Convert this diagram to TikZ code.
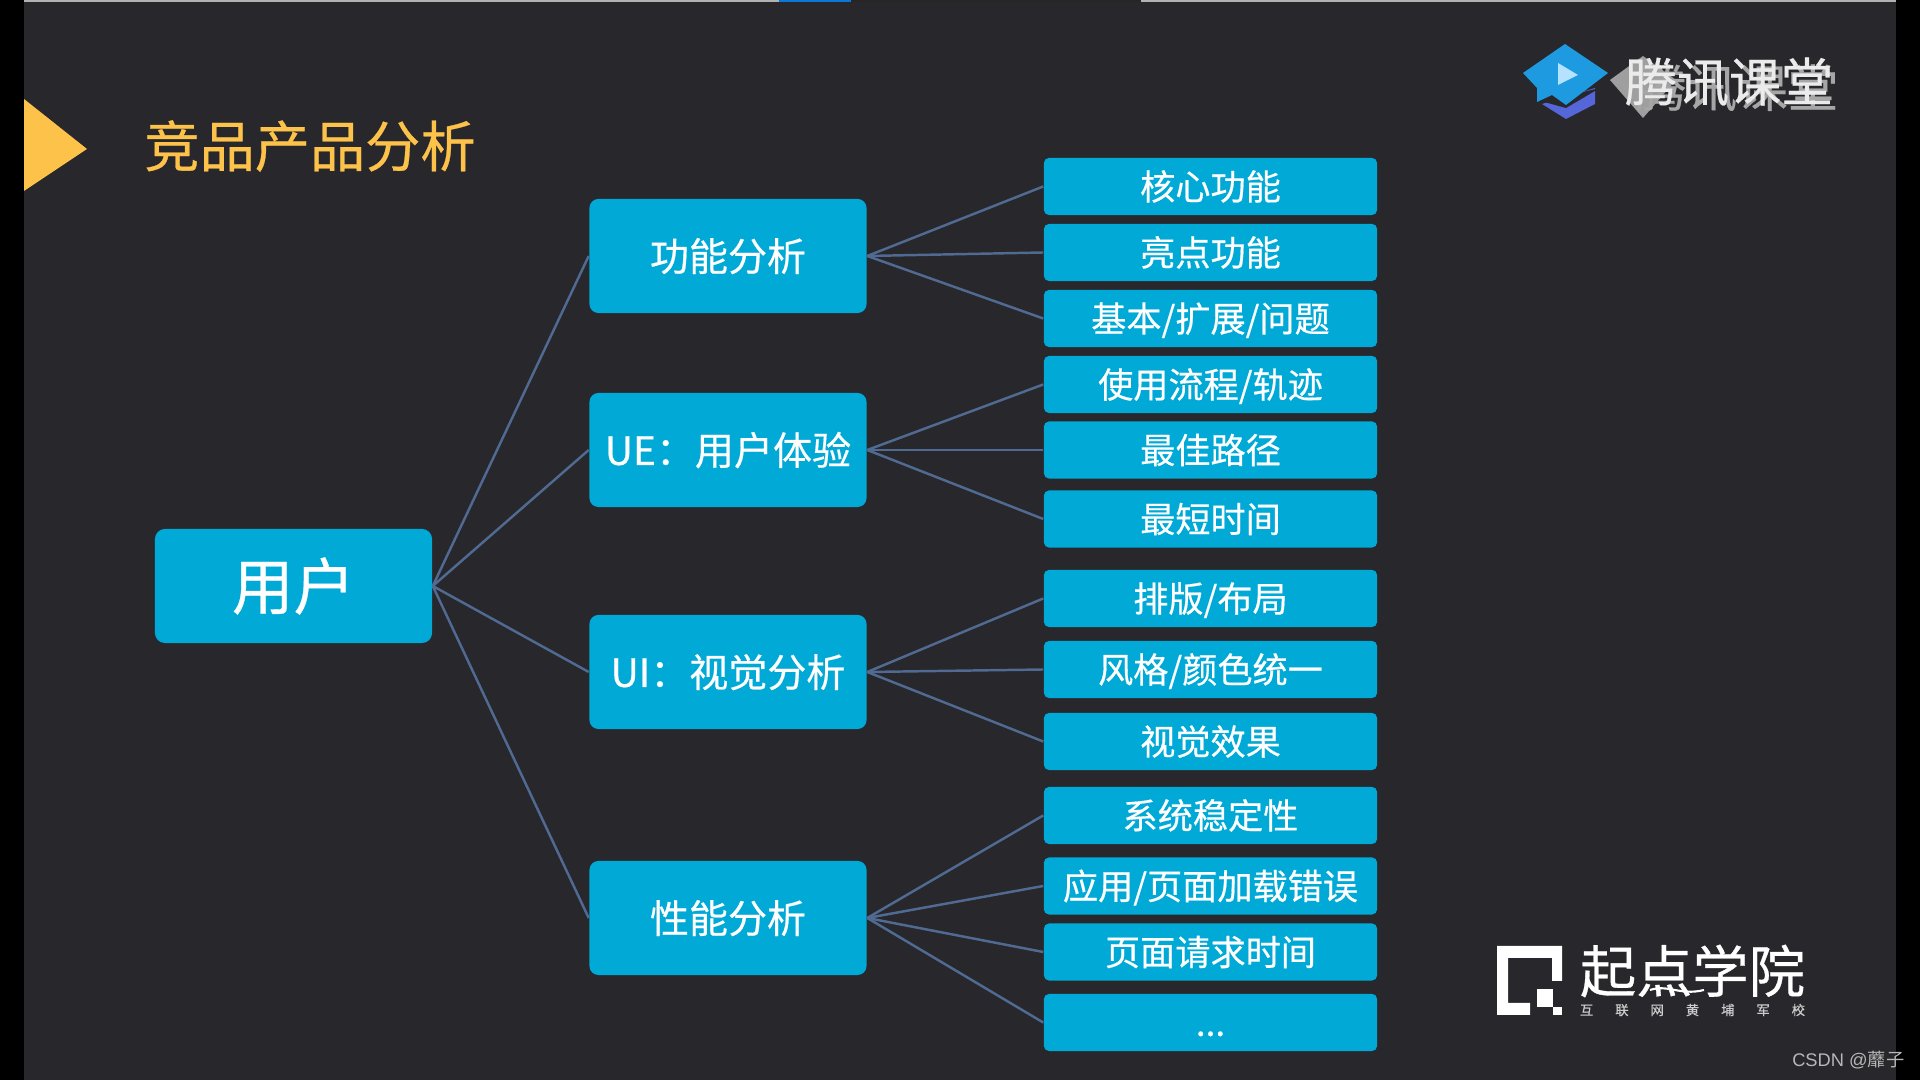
\documentclass[tikz,border=0pt]{standalone}
\usepackage{fontspec}
\usepackage{xcolor}
\setmainfont{Noto Sans CJK SC}[RawFeature={embolden=0.5}]
\newfontfamily\csdnfont{Liberation Sans}
\newfontfamily\plaincjk{Noto Sans CJK SC}
\usetikzlibrary{arrows.meta, calc}
\definecolor{slidebg}{HTML}{27272C}
\definecolor{boxblue}{HTML}{00A9D6}
\definecolor{linkblue}{HTML}{506A92}
\definecolor{titlegold}{HTML}{FDC24A}
\definecolor{barblue}{HTML}{0A78D7}
\definecolor{capblue}{HTML}{1E9BE0}
\definecolor{capviolet}{HTML}{5566D8}
\definecolor{playblue}{HTML}{B5E3FF}

\begin{document}
\begin{tikzpicture}[x=0.01cm, y=-0.01cm,
    rootbox/.style={fill=boxblue, rounded corners=0.1cm, minimum width=2.77cm, minimum height=1.14cm, inner sep=0pt, text=white, font=\fontsize{17.5}{17.5}\selectfont, text height=15.4pt, text depth=2.1pt},
    midbox/.style={fill=boxblue, rounded corners=0.09cm, minimum width=2.77cm, minimum height=1.14cm, inner sep=0pt, text=white, font=\fontsize{11.1}{11.1}\selectfont, text height=9.8pt, text depth=1.3pt},
    leafbox/.style={fill=boxblue, rounded corners=0.05cm, minimum width=3.33cm, minimum height=0.57cm, inner sep=0pt, text=white, font=\fontsize{10}{10}\selectfont, text height=8.8pt, text depth=1.2pt},
    link/.style={draw=linkblue, line width=0.7pt}]
    % Slide background and side strips
    \fill[black] (0,0) rectangle (1920,1080);
    \fill[slidebg] (24,0) rectangle (1896,1080);
    \fill[gray!60] (24,0) rectangle (779,2);
    \fill[barblue] (779,0) rectangle (851,2);
    \fill[black!85] (851,0) rectangle (1141,2);
    \fill[gray!60] (1141,0) rectangle (1896,2);
    \useasboundingbox (0,0) rectangle (1920,1080);

    % Title
    \fill[titlegold] (24,99) -- (87,149) -- (24,191) -- cycle;
    \node[text=titlegold, font=\fontsize{15.7}{15.7}\selectfont, inner sep=0pt] (title) at (310,146) {竞品产品分析};

    % Root and second level
    \node[rootbox] (user) at (293.5,586) {用户};
    \node[midbox] (func) at (728,256) {功能分析};
    \node[midbox] (ue) at (728,450) {UE：用户体验};
    \node[midbox] (ui) at (728,672) {UI：视觉分析};
    \node[midbox] (perf) at (728,918) {性能分析};

    % Leaves
    \node[leafbox] (core) at (1210.5,186.5) {核心功能};
    \node[leafbox] (high) at (1210.5,252.5) {亮点功能};
    \node[leafbox] (base) at (1210.5,318.5) {基本/扩展/问题};
    \node[leafbox] (flow) at (1210.5,384.5) {使用流程/轨迹};
    \node[leafbox] (best) at (1210.5,450) {最佳路径};
    \node[leafbox] (short) at (1210.5,519) {最短时间};
    \node[leafbox] (layout) at (1210.5,598.5) {排版/布局};
    \node[leafbox] (style) at (1210.5,669.5) {风格/颜色统一};
    \node[leafbox] (effect) at (1210.5,741.5) {视觉效果};
    \node[leafbox] (stable) at (1210.5,815.5) {系统稳定性};
    \node[leafbox] (load) at (1210.5,886) {应用/页面加载错误};
    \node[leafbox] (req) at (1210.5,952) {页面请求时间};
    \node[leafbox] (more) at (1210.5,1022.5) {...};

    % Connectors
    \foreach \mid in {func, ue, ui, perf}
        \draw[link] (user.east) -- (\mid.west);
    \foreach \leaf in {core, high, base}
        \draw[link] (func.east) -- (\leaf.west);
    \foreach \leaf in {flow, best, short}
        \draw[link] (ue.east) -- (\leaf.west);
    \foreach \leaf in {layout, style, effect}
        \draw[link] (ui.east) -- (\leaf.west);
    \foreach \leaf in {stable, load, req, more}
        \draw[link] (perf.east) -- (\leaf.west);

    % Top logo
    \fill[gray!75] (1610,80) -- (1643,56) -- (1676,80) -- (1643,118) -- cycle;
    \fill[capviolet] (1542,104) -- (1595,88) -- (1595,104) -- (1566,119) -- cycle;
    \fill[slidebg] (1537,100) -- (1566,108) -- (1600,88) -- (1566,96) -- cycle;
    \fill[capblue] (1523,73) -- (1565,44) -- (1608,73) -- (1566,105) -- (1552,95) -- (1537,102) -- (1537,88) -- cycle;
    \fill[playblue] (1558,63) -- (1578,75) -- (1558,85) -- cycle;
    \node[text=gray!70, font=\fontsize{14.4}{14.4}\selectfont, inner sep=0pt] (ghost) at (1737,88) {腾讯课堂};
    \node[text=white!92!black, font=\fontsize{14.8}{14.8}\selectfont, inner sep=0pt] (tencent) at (1729,82) {腾讯课堂};

    % Bottom logo
    \fill[white] (1497,946) -- (1562,946) -- (1562,981) -- (1552,981) -- (1552,958) -- (1508,958) -- (1508,1003) -- (1530,1003) -- (1530,1015) -- (1497,1015) -- cycle;
    \fill[white] (1537,989) rectangle (1553,1007);
    \fill[white] (1553,1007) rectangle (1562,1015);
    \node[text=white, font=\fontsize{16}{16}\selectfont, inner sep=0pt] (school) at (1692.5,971) {起点学院};
    \draw[white, line width=0.6pt] (1650,990) .. controls (1668,984) and (1680,996) .. (1704,990);
    \node[text=white!80!black, font=\fontsize{3.8}{3.8}\selectfont, inner sep=0pt] (motto) at (1692.5,1010) {\makebox[2.25cm][s]{互\hfil 联\hfil 网\hfil 黄\hfil 埔\hfil 军\hfil 校}};

    % Watermark
    \node[text=white!72!black, font=\fontsize{5.2}{5.2}\plaincjk, inner sep=0pt, anchor=east] (csdn) at (1905,1060) {{\csdnfont CSDN @}蘼子};
\end{tikzpicture}
\end{document}
